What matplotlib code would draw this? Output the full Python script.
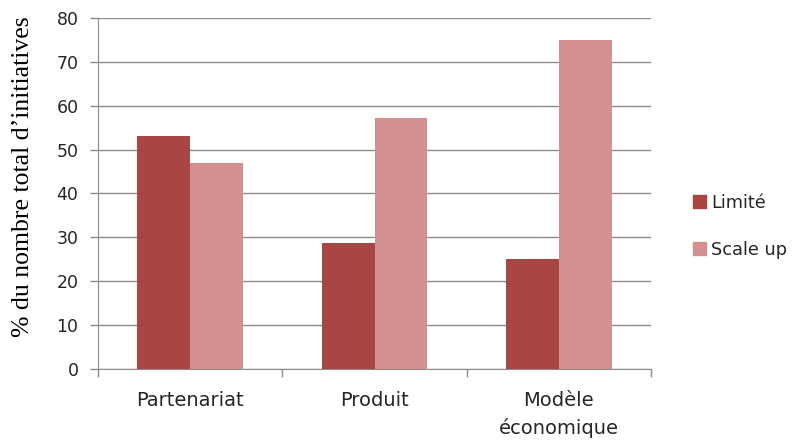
import numpy as np
import matplotlib
matplotlib.use("Agg")
import matplotlib.pyplot as plt
from matplotlib.patches import Patch

# données
categories = ["Partenariat", "Produit", "Modèle\néconomique"]
limite = [53, 28.7, 25]
scale_up = [47, 57.3, 75]
series_names = ["Limité", "Scale up"]

c_limite = "#A94644"
c_scale = "#D29190"
c_grid = "#8C8C8C"
c_txt = "#262626"

fig = plt.figure(figsize=(7.94, 4.44), dpi=100)
ax = fig.add_axes([0.1234, 0.1689, 0.6966, 0.7906])

x = np.arange(len(categories))
w = 0.286
ax.bar(x - w / 2, limite, w, color=c_limite, zorder=3)
ax.bar(x + w / 2, scale_up, w, color=c_scale, zorder=3)

ax.set_xlim(-0.5, len(categories) - 0.5)
ax.set_ylim(0, 80)
ax.set_yticks(np.arange(0, 81, 10))
ax.yaxis.grid(True, color=c_grid, linewidth=1.0, zorder=0)
ax.set_axisbelow(True)

# ticks de catégorie entre les groupes
ax.set_xticks(np.arange(-0.5, len(categories), 1.0))
ax.set_xticklabels([])
ax.set_xticks(x, minor=True)
ax.set_xticklabels(categories, minor=True, fontsize=14, family="DejaVu Sans",
                   color=c_txt, linespacing=1.5)
ax.tick_params(axis="x", which="minor", length=0, pad=15.5)
ax.tick_params(axis="x", which="major", length=6, color=c_grid, width=1)
ax.tick_params(axis="y", length=6, color=c_grid, width=1, pad=8)
for lab in ax.get_yticklabels():
    lab.set_fontsize(12.5)
    lab.set_family("DejaVu Sans")
    lab.set_color(c_txt)

for s in ["top", "right"]:
    ax.spines[s].set_visible(False)
ax.spines["left"].set_color(c_grid)
ax.spines["bottom"].set_color(c_grid)

fig.text(23 / 794, 1 - 176.5 / 444, "% du nombre total d\u2019initiatives",
         family="Liberation Serif", fontsize=18.5, rotation=90,
         ha="center", va="center", color="black")

handles = [Patch(color=c_limite), Patch(color=c_scale)]
fig.legend(handles, series_names, loc="center left", bbox_to_anchor=(0.868, 0.49),
           frameon=False, prop={"family": "DejaVu Sans", "size": 12.8},
           handlelength=0.75, handleheight=0.75, handletextpad=0.3,
           labelspacing=1.65, labelcolor=c_txt, borderaxespad=0, borderpad=0.2)

fig.savefig("out.png", dpi=100)
